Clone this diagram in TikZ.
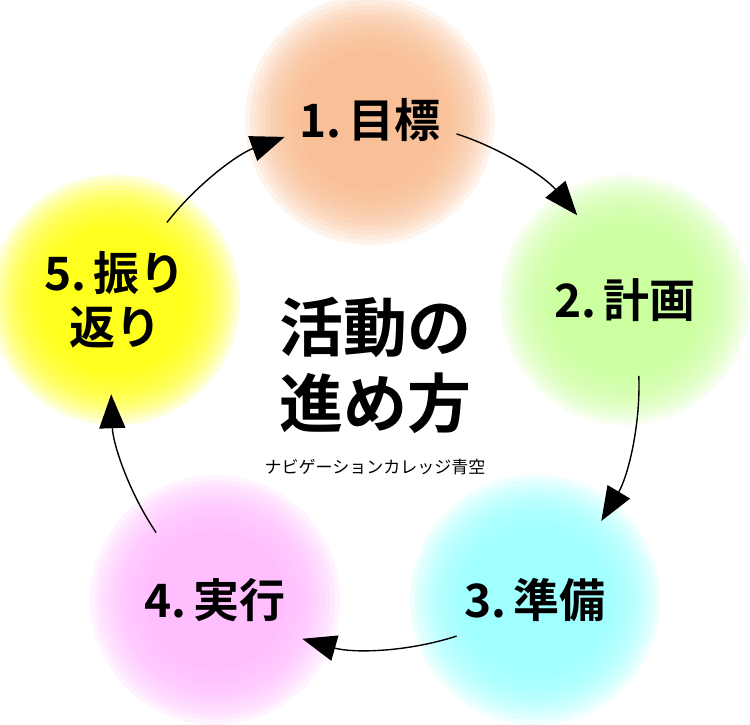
\documentclass[tikz,border=0pt]{standalone}
\usepackage{fontspec}
\newfontfamily\cjk{Noto Sans CJK JP}
\newfontfamily\cjkb{Noto Sans CJK JP Bold}
\usetikzlibrary{arrows.meta,calc}
\definecolor{peach}{RGB}{249,187,140}
\definecolor{lgreen}{RGB}{200,255,150}
\definecolor{lcyan}{RGB}{150,255,255}
\definecolor{lpink}{RGB}{255,185,255}
\definecolor{lyellow}{RGB}{255,255,0}
\newcommand{\softblob}[2]{%
  \foreach \r in {125,120,...,70}
    \fill[#2, fill opacity=0.16] #1 circle (\r);}
\tikzset{
  step label/.style={font=\cjkb\fontsize{46}{54}\selectfont, align=center},
  cyc/.style={line width=1.4pt, -{Triangle[length=34pt,width=26pt]}}
}
\begin{document}
\begin{tikzpicture}[x=1pt,y=1pt]
  \useasboundingbox[fill=white] (0,0) rectangle (750,725);
  % blobs
  \softblob{(370,605)}{peach}
  \softblob{(625,425)}{lgreen}
  \softblob{(535,125)}{lcyan}
  \softblob{(215,125)}{lpink}
  \softblob{(115,425)}{lyellow}

  \node[step label] (goal) at (370,605) {1.\,目標};
  \node[step label] (plan) at (625,425) {2.\,計画};
  \node[step label] (prep) at (535,125) {3.\,準備};
  \node[step label] (exec) at (215,125) {4.\,実行};
  \node[step label] (refl) at (115,425) {5.\,振り\\返り};

  % cycle arrows
  \coordinate (ctr) at (375,340);
  \draw[cyc] ($(ctr)+(72:264)$) arc (72:40:264);
  \draw[cyc] ($(ctr)+(2:264)$) arc (2:-31:264);
  \draw[cyc] ($(ctr)+(-72:264)$) arc (-72:-106:264);
  \draw[cyc] ($(ctr)+(-146:264)$) arc (-146:-178:264);
  \draw[cyc] ($(ctr)+(142:264)$) arc (142:110:264);

  \node[font=\cjkb\fontsize{64}{76}\selectfont, align=center] (title) at (375,360) {活動の\\進め方};
  \node[font=\cjk\fontsize{17}{20}\selectfont] (sub) at (375,258) {ナビゲーションカレッジ青空};
\end{tikzpicture}
\end{document}
